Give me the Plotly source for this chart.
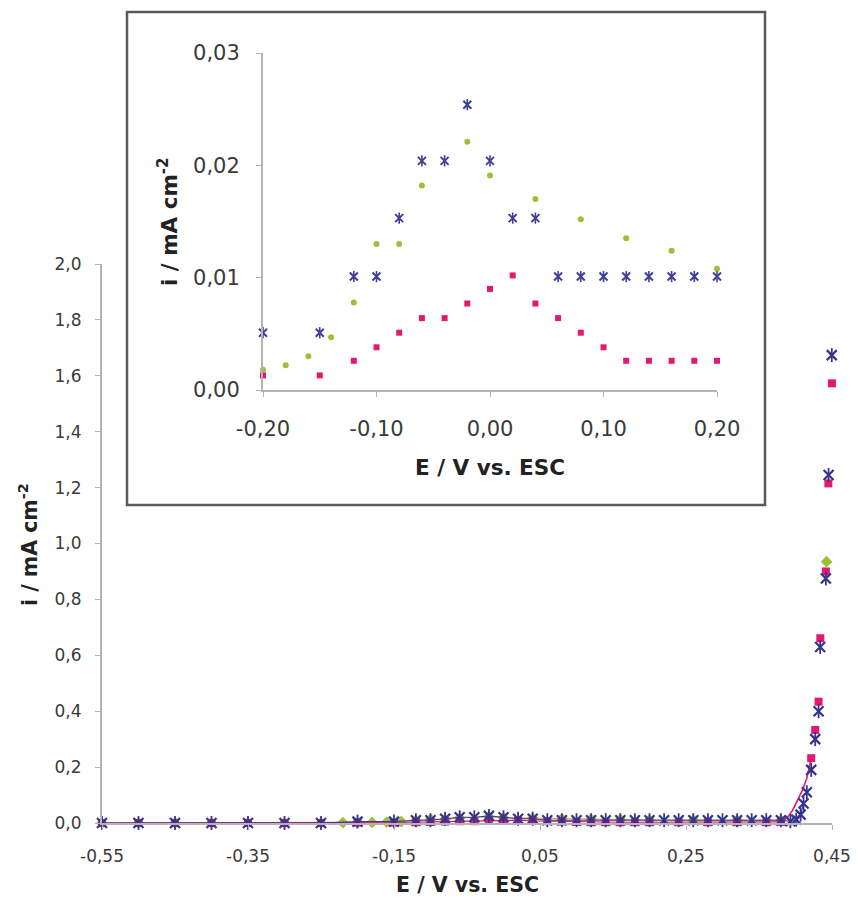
import plotly.graph_objects as go

W, H = 859, 907

# ---- main chart: scan from cathodic side up to the pitting foot ----
blue_scan_E = [-0.55, -0.50, -0.45, -0.40, -0.35, -0.30, -0.25, -0.20, -0.15,
               -0.12, -0.10, -0.08, -0.06, -0.04, -0.02, 0.00, 0.02, 0.04, 0.06,
               0.08, 0.10, 0.12, 0.14, 0.16, 0.18, 0.20, 0.22, 0.24, 0.26, 0.28,
               0.30, 0.32, 0.34, 0.36, 0.38, 0.393, 0.401, 0.407, 0.411]
blue_scan_i = [0.0, 0.0, 0.0, 0.0, 0.0, 0.0, 0.0, 0.005, 0.005,
               0.010, 0.010, 0.0153, 0.0204, 0.0204, 0.0254, 0.0204, 0.0153, 0.0153, 0.010,
               0.010, 0.010, 0.010, 0.010, 0.010, 0.010, 0.010, 0.010, 0.010, 0.010, 0.010,
               0.010, 0.010, 0.010, 0.010, 0.010, 0.006, 0.012, 0.030, 0.07]
# breakdown branch
blue_peak_E = [0.4155, 0.4215, 0.427, 0.4316, 0.4338, 0.4416, 0.4453, 0.4497]
blue_peak_i = [0.11, 0.19, 0.30, 0.40, 0.63, 0.875, 1.245, 1.674]

pink_scan_E = [-0.55, -0.50, -0.45, -0.40, -0.35, -0.30, -0.25, -0.20, -0.15,
               -0.12, -0.10, -0.08, -0.06, -0.04, -0.02, 0.00, 0.02, 0.04, 0.06,
               0.08, 0.10, 0.12, 0.14, 0.16, 0.18, 0.20, 0.24, 0.28, 0.32, 0.36,
               0.38]
pink_scan_i = [0.0, 0.0, 0.0, 0.0, 0.0, 0.0, 0.0, 0.0013, 0.0013,
               0.0026, 0.0038, 0.0051, 0.0064, 0.0064, 0.0077, 0.0090, 0.0102, 0.0077, 0.0064,
               0.0051, 0.0038, 0.0026, 0.0026, 0.0026, 0.0026, 0.0026, 0.0026, 0.0026, 0.0026, 0.0026,
               0.004]
# rising foot, recorded densely (drawn as a trace line)
pink_foot_E = [0.38, 0.389, 0.396, 0.403, 0.410, 0.4155, 0.4215]
pink_foot_i = [0.004, 0.02, 0.045, 0.08, 0.12, 0.16, 0.232]
pink_peak_E = [0.4215, 0.427, 0.4316, 0.434, 0.4416, 0.445, 0.4499]
pink_peak_i = [0.232, 0.333, 0.434, 0.661, 0.90, 1.215, 1.573]

green_scan_E = [-0.55, -0.50, -0.45, -0.40, -0.35, -0.30, -0.25, -0.22, -0.20,
                -0.18, -0.16, -0.14, -0.12, -0.10, -0.08, -0.06, -0.02, 0.00,
                0.04, 0.08, 0.12, 0.16, 0.20, 0.26, 0.32, 0.38]
green_scan_i = [0.0, 0.0, 0.0, 0.0, 0.0, 0.0, 0.0, 0.001, 0.0018,
                0.0022, 0.003, 0.0047, 0.0078, 0.0130, 0.0130, 0.0182, 0.0221, 0.0191,
                0.0170, 0.0152, 0.0135, 0.0124, 0.0108, 0.010, 0.010, 0.010]
green_peak_E = [0.4425]
green_peak_i = [0.935]

# ---- inset: zoom on the passive region ----
ins_blue_E = [-0.20, -0.15, -0.12, -0.10, -0.08, -0.06, -0.04, -0.02, 0.00, 0.02,
              0.04, 0.06, 0.08, 0.10, 0.12, 0.14, 0.16, 0.18, 0.20]
ins_blue_i = [0.0051, 0.0051, 0.0101, 0.0101, 0.0153, 0.0204, 0.0204, 0.0254, 0.0204, 0.0153,
              0.0153, 0.0101, 0.0101, 0.0101, 0.0101, 0.0101, 0.0101, 0.0101, 0.0101]

ins_green_E = [-0.20, -0.18, -0.16, -0.14, -0.12, -0.10, -0.08, -0.06, -0.02, 0.00,
               0.04, 0.08, 0.12, 0.16, 0.20]
ins_green_i = [0.0018, 0.0022, 0.0030, 0.0047, 0.0078, 0.0130, 0.0130, 0.0182, 0.0221, 0.0191,
               0.0170, 0.0152, 0.0135, 0.0124, 0.0108]

ins_pink_E = [-0.20, -0.15, -0.12, -0.10, -0.08, -0.06, -0.04, -0.02, 0.00, 0.02,
              0.04, 0.06, 0.08, 0.10, 0.12, 0.14, 0.16, 0.18, 0.20]
ins_pink_i = [0.0013, 0.0013, 0.0026, 0.0038, 0.0051, 0.0064, 0.0064, 0.0077, 0.0090, 0.0102,
              0.0077, 0.0064, 0.0051, 0.0038, 0.0026, 0.0026, 0.0026, 0.0026, 0.0026]

main_xticks = [-0.55, -0.35, -0.15, 0.05, 0.25, 0.45]
main_xlabels = ["-0,55", "-0,35", "-0,15", "0,05", "0,25", "0,45"]
main_yticks = [0.0, 0.2, 0.4, 0.6, 0.8, 1.0, 1.2, 1.4, 1.6, 1.8, 2.0]
ins_xticks = [-0.20, -0.10, 0.00, 0.10, 0.20]
ins_xlabels = ["-0,20", "-0,10", "0,00", "0,10", "0,20"]
ins_yticks = [0.00, 0.01, 0.02, 0.03]

BLUE = "#34348e"
BLUE_INS = "#3f3f9c"
PINK = "#e2196f"
GREEN = "#9dbf3a"
AXIS = "#b4b4b4"
TXT = "#3a3a3a"
FONT = "DejaVu Sans"

fig = go.Figure()


def star_traces(xs, ys, size, color, width, axes, line=None):
    """Excel-style star marker: an x with a vertical bar through it."""
    xa, ya = axes
    mode = "lines+markers" if line else "markers"
    fig.add_trace(go.Scatter(x=xs, y=ys, mode=mode,
                             line=line or dict(width=0),
                             marker=dict(symbol="x-thin-open", size=size, color=color,
                                         line=dict(color=color, width=width)),
                             cliponaxis=False, xaxis=xa, yaxis=ya))
    fig.add_trace(go.Scatter(x=xs, y=ys, mode="markers",
                             marker=dict(symbol="line-ns-open", size=size, color=color,
                                         line=dict(color=color, width=width * 0.8)),
                             cliponaxis=False, xaxis=xa, yaxis=ya))


# main curves: passive scan (line + markers) and breakdown branch (markers)
fig.add_trace(go.Scatter(x=green_scan_E, y=green_scan_i, mode="lines+markers",
                         line=dict(color=GREEN, width=1),
                         marker=dict(symbol="diamond", size=9, color=GREEN),
                         cliponaxis=False, xaxis="x", yaxis="y"))
fig.add_trace(go.Scatter(x=green_peak_E, y=green_peak_i, mode="markers",
                         marker=dict(symbol="diamond", size=9, color=GREEN),
                         cliponaxis=False, xaxis="x", yaxis="y"))
fig.add_trace(go.Scatter(x=pink_scan_E, y=pink_scan_i, mode="lines+markers",
                         line=dict(color=PINK, width=1.2),
                         marker=dict(symbol="square", size=8, color=PINK),
                         cliponaxis=False, xaxis="x", yaxis="y"))
fig.add_trace(go.Scatter(x=pink_foot_E, y=pink_foot_i, mode="lines",
                         line=dict(color=PINK, width=1.6),
                         cliponaxis=False, xaxis="x", yaxis="y"))
fig.add_trace(go.Scatter(x=pink_peak_E, y=pink_peak_i, mode="markers",
                         marker=dict(symbol="square", size=8, color=PINK),
                         cliponaxis=False, xaxis="x", yaxis="y"))
star_traces(blue_scan_E, blue_scan_i, 10, BLUE, 2.2, ("x", "y"),
            line=dict(color=BLUE, width=1))
star_traces(blue_peak_E, blue_peak_i, 10, BLUE, 2.2, ("x", "y"))

# inset points
fig.add_trace(go.Scatter(x=ins_green_E, y=ins_green_i, mode="markers",
                         marker=dict(symbol="circle", size=6, color=GREEN),
                         cliponaxis=False, xaxis="x2", yaxis="y2"))
fig.add_trace(go.Scatter(x=ins_pink_E, y=ins_pink_i, mode="markers",
                         marker=dict(symbol="square", size=6, color=PINK),
                         cliponaxis=False, xaxis="x2", yaxis="y2"))
star_traces(ins_blue_E, ins_blue_i, 8, BLUE_INS, 2.0, ("x2", "y2"))


def px_x(p):
    return p / W


def px_y(p):
    return 1 - p / H


axis_common = dict(showgrid=False, zeroline=False, showline=True, linecolor=AXIS,
                   linewidth=2, ticks="outside", ticklen=5, tickcolor=AXIS, tickwidth=1,
                   automargin=False)

fig.update_layout(
    width=W, height=H,
    margin=dict(l=0, r=0, t=0, b=0),
    paper_bgcolor="white", plot_bgcolor="rgba(0,0,0,0)",
    showlegend=False,
    separators=", ",
    font=dict(family=FONT, color=TXT),
    xaxis=dict(domain=[px_x(102), px_x(832)], range=[-0.55, 0.45],
               tickvals=main_xticks, ticktext=main_xlabels, anchor="y",
               tickfont=dict(size=17, color=TXT), ticklabelstandoff=12, **axis_common),
    yaxis=dict(domain=[px_y(823), px_y(264)], range=[0, 2.0],
               tickvals=main_yticks, tickformat=".1f", anchor="x",
               tickfont=dict(size=17, color=TXT), ticklabelstandoff=10, **axis_common),
    xaxis2=dict(domain=[px_x(263), px_x(717)], range=[-0.20, 0.20],
                tickvals=ins_xticks, ticktext=ins_xlabels, anchor="y2",
                tickfont=dict(size=21, color=TXT), ticklabelstandoff=14, **axis_common),
    yaxis2=dict(domain=[px_y(390), px_y(53)], range=[0, 0.03],
                tickvals=ins_yticks, tickformat=".2f", anchor="x2",
                tickfont=dict(size=21, color=TXT), ticklabelstandoff=12, **axis_common),
)

# inset frame
fig.add_shape(type="rect", xref="paper", yref="paper",
              x0=px_x(127), x1=px_x(765), y0=px_y(505), y1=px_y(12),
              line=dict(color="#5a5a5a", width=2.5), fillcolor="rgba(0,0,0,0)",
              layer="below")

title_main = dict(family=FONT, size=20.5, color="#222222")
title_ins = dict(family=FONT, size=21.5, color="#222222")

fig.add_annotation(text="<b>E / V vs. ESC</b>", xref="paper", yref="paper",
                   x=px_x(467), y=px_y(885), showarrow=False, font=title_main,
                   xanchor="center", yanchor="middle")
fig.add_annotation(text="<b>i / mA cm<sup>-2</sup></b>", xref="paper", yref="paper",
                   x=px_x(28), y=px_y(545), showarrow=False, font=title_main,
                   textangle=-90, xanchor="center", yanchor="middle")
fig.add_annotation(text="<b>E / V vs. ESC</b>", xref="paper", yref="paper",
                   x=px_x(490), y=px_y(467), showarrow=False, font=title_ins,
                   xanchor="center", yanchor="middle")
fig.add_annotation(text="<b>i / mA cm<sup>-2</sup></b>", xref="paper", yref="paper",
                   x=px_x(168), y=px_y(222), showarrow=False, font=title_ins,
                   textangle=-90, xanchor="center", yanchor="middle")

fig.write_html("out.html")
